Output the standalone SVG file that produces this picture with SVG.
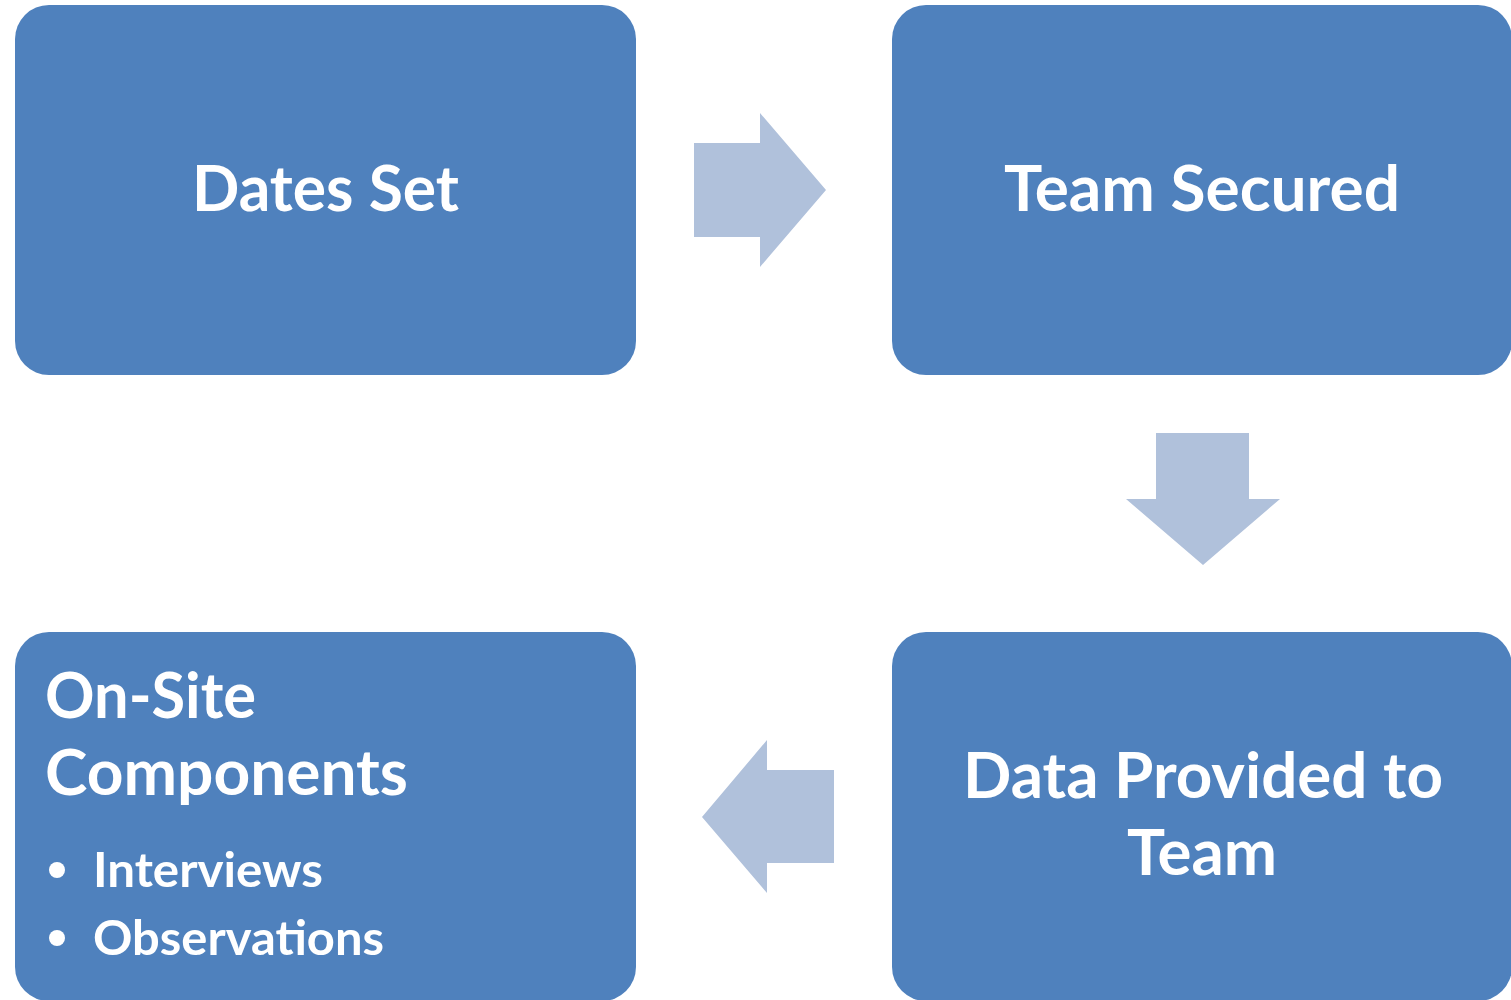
<svg xmlns="http://www.w3.org/2000/svg" width="1511" height="1000" viewBox="0 0 1511 1000">
<style>
.box{fill:#4F81BD;}
.arr{fill:#B0C1DB;}
text{font-family:Lato,"Open Sans","Liberation Sans",sans-serif;font-weight:bold;fill:#FFFFFF;}
.big{font-size:64px;}
.sm{font-size:48px;}
</style>
<rect width="1511" height="1000" fill="#FFFFFF"/>
<g id="connectors">
<path class="arr" d="M694,143 L760,143 L760,113 L826,190 L760,267 L760,237 L694,237 Z"/>
<path class="arr" d="M1156,433 L1249,433 L1249,499 L1280,499 L1203,565 L1126,499 L1156,499 Z"/>
<path class="arr" d="M834,770 L767,770 L767,740 L702,817 L767,893 L767,863 L834,863 Z"/>
</g>
<g id="node-dates-set">
<rect class="box" x="15" y="5" width="621" height="370" rx="34"/>
<text class="big" x="325.5" y="211" text-anchor="middle" textLength="267" lengthAdjust="spacingAndGlyphs">Dates Set</text>
</g>
<g id="node-team-secured">
<rect class="box" x="892" y="5" width="620" height="370" rx="34"/>
<text class="big" x="1202" y="211" text-anchor="middle" textLength="396" lengthAdjust="spacingAndGlyphs">Team Secured</text>
</g>
<g id="node-data-provided">
<rect class="box" x="892" y="632" width="620" height="369" rx="34"/>
<text class="big" x="1203" y="798" text-anchor="middle" textLength="480" lengthAdjust="spacingAndGlyphs">Data Provided to</text>
<text class="big" x="1202" y="875" text-anchor="middle" textLength="150" lengthAdjust="spacingAndGlyphs">Team</text>
</g>
<g id="node-on-site">
<rect class="box" x="15" y="632" width="621" height="369" rx="34"/>
<text class="big" x="45" y="718" textLength="211" lengthAdjust="spacingAndGlyphs">On-Site</text>
<text class="big" x="45" y="795" textLength="363" lengthAdjust="spacingAndGlyphs">Components</text>
<circle cx="57" cy="870" r="8" fill="#FFFFFF"/>
<text class="sm" x="93" y="887" textLength="230" lengthAdjust="spacingAndGlyphs">Interviews</text>
<circle cx="57" cy="938" r="8" fill="#FFFFFF"/>
<text class="sm" x="93" y="955" textLength="291" lengthAdjust="spacingAndGlyphs">Observations</text>
</g>
</svg>
